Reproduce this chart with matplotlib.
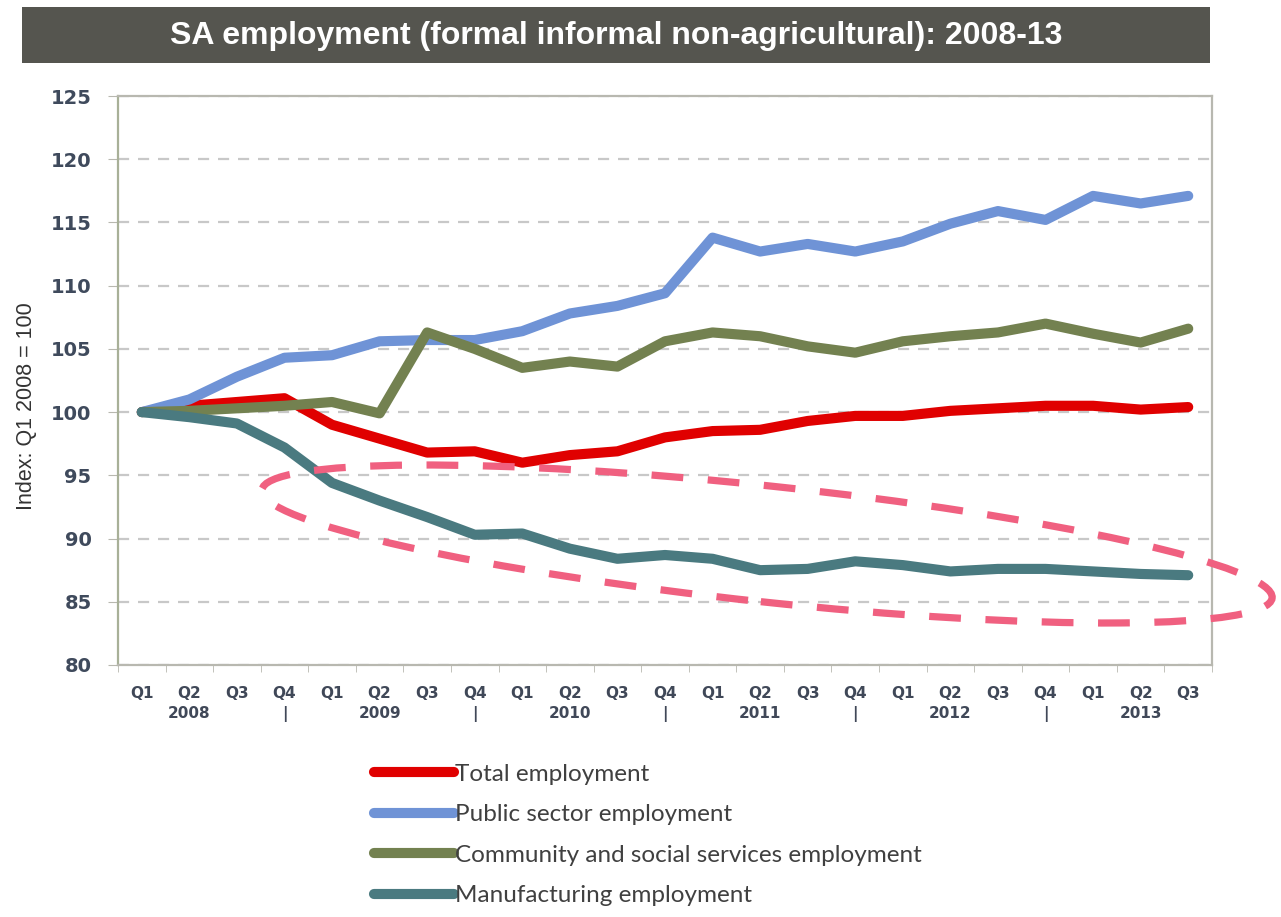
import numpy as np
import matplotlib

matplotlib.use("Agg")
import matplotlib.pyplot as plt  # noqa: E402
from matplotlib.patches import Ellipse, Rectangle  # noqa: E402
from matplotlib.transforms import IdentityTransform  # noqa: E402

# quarters Q1 2008 .. Q3 2013
QUARTERS = ["Q1", "Q2", "Q3", "Q4"] * 5 + ["Q1", "Q2", "Q3"]
YEAR_ROW = ["", "2008", "", "|", "", "2009", "", "|", "", "2010", "", "|",
            "", "2011", "", "|", "", "2012", "", "|", "", "2013", ""]

total = [100.0, 100.5, 100.8, 101.1, 99.0, 97.9, 96.8, 96.9, 96.0, 96.6, 96.9, 98.0,
         98.5, 98.6, 99.3, 99.7, 99.7, 100.1, 100.3, 100.5, 100.5, 100.2, 100.4]
public = [100.0, 101.0, 102.8, 104.3, 104.5, 105.6, 105.7, 105.7, 106.4, 107.8, 108.4, 109.4,
          113.8, 112.7, 113.3, 112.7, 113.5, 114.9, 115.9, 115.2, 117.1, 116.5, 117.1]
community = [100.0, 100.1, 100.3, 100.5, 100.8, 99.9, 106.3, 105.0, 103.5, 104.0, 103.6, 105.6,
             106.3, 106.0, 105.2, 104.7, 105.6, 106.0, 106.3, 107.0, 106.2, 105.5, 106.6]
manufacturing = [100.0, 99.6, 99.1, 97.2, 94.4, 93.0, 91.7, 90.3, 90.4, 89.2, 88.4, 88.7,
                 88.4, 87.5, 87.6, 88.2, 87.9, 87.4, 87.6, 87.6, 87.4, 87.2, 87.1]

SERIES = [
    ("Total employment", total, "#e00000"),
    ("Public sector employment", public, "#6f93d6"),
    ("Community and social services employment", community, "#738150"),
    ("Manufacturing employment", manufacturing, "#4a7a80"),
]

W, H, DPI = 1281, 917, 100
fig = plt.figure(figsize=(W / DPI, H / DPI), dpi=DPI)
fig.patch.set_facecolor("white")

# title banner
fig.add_artist(Rectangle((22 / W, 1 - 63 / H), (1210 - 22) / W, 56 / H,
                         transform=fig.transFigure, facecolor="#55554f", edgecolor="none"))
fig.text(616 / W, 1 - 36 / H, "SA employment (formal informal non-agricultural): 2008-13",
         ha="center", va="center", color="white", fontsize=23, fontweight="bold",
         family="Liberation Sans")

ax = fig.add_axes([118 / W, 1 - 665 / H, (1212 - 118) / W, (665 - 96) / H])
x = np.arange(len(QUARTERS))
for label, vals, color in SERIES:
    ax.plot(x, vals, color=color, linewidth=7.3, solid_capstyle="round",
            solid_joinstyle="round", label=label, zorder=3)

ax.set_xlim(-0.5, len(QUARTERS) - 0.5)
ax.set_ylim(80, 125)
ax.set_yticks(np.arange(80, 126, 5))
ax.set_xticks(x)
ax.set_xticklabels([f"{q}\n{y}" for q, y in zip(QUARTERS, YEAR_ROW)],
                   fontsize=11, fontweight="bold", color="#404858", linespacing=1.45)
ax.set_xticks(np.arange(-0.5, len(QUARTERS) + 0.5, 1), minor=True)
ax.tick_params(axis="x", which="major", length=0, pad=15)
ax.tick_params(axis="x", which="minor", length=5, color="#b8b8b0", direction="out")
ax.tick_params(axis="y", length=7, color="#b8b8b0", direction="out", pad=12)
for t in ax.get_yticklabels():
    t.set_fontsize(14)
    t.set_fontweight("bold")
    t.set_color("#3f4a5c")

ax.grid(axis="y", color="#c8c8c8", linestyle=(0, (5, 4)), linewidth=1.6)
ax.set_axisbelow(True)
for s in ("top", "right", "bottom"):
    ax.spines[s].set_color("#b8b8b0")
    ax.spines[s].set_linewidth(1.6)
ax.spines["left"].set_color("#a8b098")
ax.spines["left"].set_linewidth(1.6)

ax.set_ylabel("Index: Q1 2008 = 100", fontsize=15.5, family="Liberation Sans",
              color="#333333")
ax.yaxis.set_label_coords(-0.074, 0.455)

# highlight ring around manufacturing
fig.add_artist(Ellipse((767, H - 544), 1016, 116, angle=-6.1, transform=IdentityTransform(),
                       fill=False, edgecolor="#f06080", linewidth=5.2,
                       linestyle=(0, (4.4, 3.4)), zorder=5))

handles, labels = ax.get_legend_handles_labels()
leg = fig.legend(handles, labels, loc="upper left", bbox_to_anchor=(352 / W, 1 - 742 / H),
                 frameon=False, handlelength=3.3, handletextpad=0.05,
                 labelspacing=0.8, prop={"family": "Lato", "size": 17.5})
for t in leg.get_texts():
    t.set_color("#404040")

fig.savefig("out.png", dpi=DPI, facecolor="white")
